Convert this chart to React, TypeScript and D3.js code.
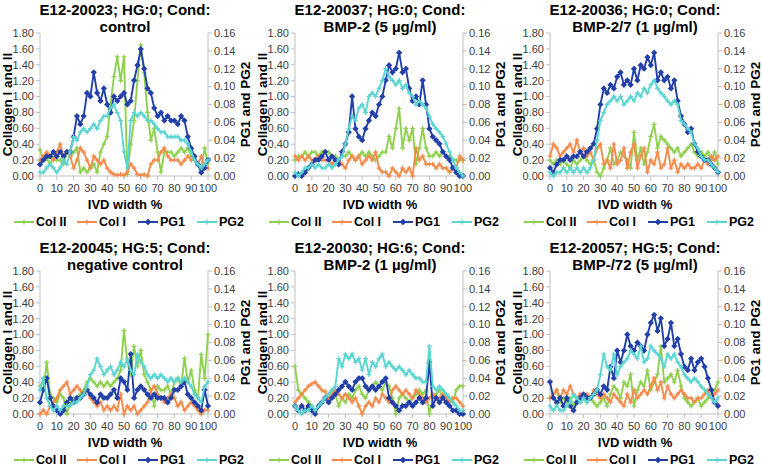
import React from "react";
import * as d3 from "d3";

// ---------- DATA (x = 0,2,4,...,100 IVD width %) ----------
const seriesNames = ["Col II", "Col I", "PG1", "PG2"];
const seriesColors = ["#8FD14F", "#F58A4B", "#2340A8", "#5AD5D2"];
const xTicks = [0, 10, 20, 30, 40, 50, 60, 70, 80, 90, 100];
const leftTicks = [0, 0.2, 0.4, 0.6, 0.8, 1.0, 1.2, 1.4, 1.6, 1.8];
const rightTicks = [0, 0.02, 0.04, 0.06, 0.08, 0.1, 0.12, 0.14, 0.16];

const titles = [
  ["E12-20023; HG:0; Cond:", "control"],
  ["E12-20037; HG:0; Cond:", "BMP-2 (5 µg/ml)"],
  ["E12-20036; HG:0; Cond:", "BMP-2/7 (1 µg/ml)"],
  ["E12-20045; HG:5; Cond:", "negative control"],
  ["E12-20030; HG:6; Cond:", "BMP-2 (1 µg/ml)"],
  ["E12-20057; HG:5; Cond:", "BMP-/72 (5 µg/ml)"],
];

// Panel 1
const colII_1 = [0.33,0.2,0.22,0.15,0.25,0.2,0.2,0.15,0.3,0.25,0.3,0.35,0.05,0.1,0.05,0.1,0.15,0.05,0.3,0.4,0.5,0.9,1.25,1.5,1.2,1.5,0.02,0.4,0.7,1.2,1.65,1.3,0.8,0.45,0.6,0.3,0.05,0.3,0.3,0.3,0.25,0.3,0.35,0.3,0.35,0.25,0.2,0.15,0.1,0.35,0.15];
const colI_1 = [0.2,0.25,0.3,0.25,0.2,0.3,0.4,0.25,0.3,0.25,0.1,0.2,0.35,0.3,0.2,0.1,0.25,0.2,0.15,0.2,0.1,0.05,0.02,0.01,0.02,0.01,0.05,0.15,0.1,0.02,0.01,0.02,0.0,0.15,0.2,0.2,0.3,0.35,0.25,0.2,0.2,0.2,0.15,0.2,0.25,0.2,0.2,0.15,0.25,0.1,0.1];
const pg1_1 = [0.013,0.018,0.022,0.022,0.027,0.022,0.027,0.022,0.027,0.027,0.044,0.067,0.058,0.067,0.093,0.089,0.116,0.093,0.084,0.098,0.080,0.071,0.089,0.084,0.089,0.093,0.080,0.084,0.107,0.124,0.142,0.120,0.098,0.093,0.076,0.067,0.071,0.062,0.067,0.062,0.062,0.058,0.067,0.062,0.044,0.031,0.022,0.013,0.004,0.009,0.018];
const pg2_1 = [0.004,0.004,0.009,0.013,0.009,0.004,0.009,0.018,0.013,0.027,0.044,0.040,0.049,0.053,0.049,0.053,0.058,0.053,0.062,0.067,0.067,0.076,0.080,0.071,0.062,0.027,0.009,0.062,0.071,0.067,0.071,0.067,0.062,0.062,0.058,0.053,0.049,0.049,0.044,0.044,0.044,0.044,0.040,0.040,0.036,0.027,0.018,0.013,0.009,0.013,0.018];

// Panel 2
const colII_2 = [0.2,0.25,0.25,0.3,0.25,0.3,0.3,0.25,0.3,0.3,0.3,0.25,0.25,0.2,0.25,0.25,0.3,0.25,0.2,0.25,0.3,0.25,0.3,0.25,0.2,0.25,0.3,0.3,0.5,0.35,0.6,0.85,0.35,0.6,0.45,0.6,0.15,0.35,0.6,0.35,0.25,0.25,0.3,0.25,0.3,0.25,0.25,0.2,0.2,0.2,0.2];
const colI_2 = [0.25,0.2,0.25,0.2,0.25,0.2,0.2,0.25,0.2,0.2,0.2,0.15,0.2,0.2,0.15,0.1,0.2,0.25,0.2,0.25,0.15,0.2,0.25,0.2,0.3,0.1,0.05,0.05,0.0,0.1,0.05,0.0,0.1,0.05,0.1,0.0,0.35,0.2,0.25,0.15,0.15,0.15,0.1,0.15,0.1,0.1,0.05,0.1,0.1,0.25,0.2];
const pg1_2 = [0.000,0.002,0.000,0.004,0.009,0.013,0.018,0.018,0.022,0.027,0.018,0.022,0.018,0.013,0.027,0.036,0.049,0.089,0.053,0.044,0.040,0.053,0.062,0.071,0.067,0.080,0.089,0.107,0.124,0.116,0.120,0.138,0.116,0.120,0.098,0.084,0.089,0.080,0.107,0.080,0.053,0.044,0.040,0.036,0.027,0.022,0.018,0.009,0.004,0.000,0.000];
const pg2_2 = [0.004,0.000,0.004,0.009,0.009,0.013,0.009,0.013,0.009,0.009,0.013,0.009,0.013,0.018,0.022,0.036,0.053,0.067,0.062,0.076,0.080,0.071,0.089,0.093,0.089,0.098,0.107,0.120,0.111,0.107,0.102,0.107,0.098,0.102,0.093,0.089,0.080,0.084,0.080,0.076,0.067,0.058,0.053,0.049,0.044,0.036,0.027,0.018,0.009,0.004,0.000];

// Panel 3
const colII_3 = [0.2,0.15,0.2,0.15,0.2,0.15,0.1,0.2,0.15,0.2,0.25,0.2,0.15,0.2,0.05,0.0,0.1,0.2,0.35,0.15,0.2,0.3,0.25,0.2,0.1,0.55,0.2,0.35,0.15,0.3,0.5,0.65,0.35,0.5,0.45,0.4,0.35,0.3,0.35,0.25,0.3,0.35,0.4,0.3,0.25,0.3,0.25,0.3,0.2,0.3,0.15];
const colI_3 = [0.25,0.4,0.35,0.25,0.3,0.35,0.4,0.3,0.45,0.3,0.35,0.25,0.3,0.2,0.35,0.4,0.15,0.2,0.1,0.4,0.15,0.2,0.35,0.1,0.3,0.4,0.1,0.25,0.35,0.05,0.2,0.15,0.3,0.1,0.15,0.35,0.1,0.2,0.05,0.15,0.1,0.15,0.1,0.1,0.15,0.1,0.2,0.15,0.25,0.2,0.25];
const pg1_3 = [0.009,0.004,0.013,0.018,0.018,0.022,0.018,0.022,0.022,0.027,0.022,0.027,0.031,0.036,0.053,0.080,0.098,0.093,0.102,0.098,0.111,0.116,0.102,0.107,0.102,0.120,0.107,0.124,0.120,0.133,0.124,0.138,0.107,0.116,0.107,0.111,0.098,0.107,0.084,0.067,0.058,0.049,0.053,0.036,0.027,0.022,0.018,0.018,0.013,0.009,0.004];
const pg2_3 = [0.004,0.000,0.004,0.004,0.009,0.004,0.009,0.004,0.009,0.004,0.009,0.004,0.009,0.018,0.040,0.062,0.071,0.080,0.084,0.089,0.084,0.089,0.080,0.084,0.089,0.084,0.093,0.089,0.098,0.093,0.102,0.107,0.098,0.093,0.089,0.084,0.080,0.084,0.080,0.062,0.058,0.053,0.049,0.036,0.031,0.022,0.018,0.018,0.013,0.009,0.004];

// Panel 4
const colII_4 = [0.35,0.3,0.65,0.25,0.2,0.15,0.25,0.2,0.0,0.15,0.2,0.2,0.25,0.3,0.4,0.45,0.4,0.35,0.4,0.35,0.4,0.35,0.4,0.45,0.55,1.05,0.65,0.5,0.85,0.6,0.8,0.5,0.4,0.3,0.1,0.35,0.3,0.3,0.35,0.25,0.4,0.45,0.35,0.7,0.4,0.55,0.3,0.2,0.75,0.45,1.0];
const colI_4 = [0.0,0.05,0.0,0.1,0.15,0.2,0.3,0.35,0.4,0.25,0.3,0.35,0.3,0.25,0.3,0.2,0.15,0.1,0.15,0.05,0.1,0.05,0.1,0.05,0.25,0.0,0.1,0.05,0.1,0.0,0.05,0.1,0.15,0.3,0.35,0.25,0.2,0.15,0.2,0.25,0.2,0.1,0.15,0.05,0.1,0.15,0.1,0.05,0.0,0.05,0.05];
const pg1_4 = [0.013,0.027,0.040,0.018,0.009,0.004,0.000,0.004,0.013,0.018,0.013,0.018,0.018,0.022,0.027,0.022,0.018,0.013,0.022,0.018,0.018,0.022,0.027,0.018,0.040,0.036,0.027,0.067,0.018,0.027,0.031,0.027,0.022,0.018,0.022,0.018,0.018,0.018,0.013,0.018,0.027,0.027,0.031,0.036,0.022,0.018,0.013,0.009,0.004,0.027,0.009];
const pg2_4 = [0.027,0.040,0.018,0.009,0.004,0.009,0.004,0.009,0.009,0.009,0.013,0.013,0.018,0.022,0.031,0.044,0.049,0.062,0.053,0.044,0.049,0.053,0.044,0.049,0.058,0.053,0.062,0.049,0.044,0.067,0.058,0.053,0.044,0.040,0.044,0.040,0.044,0.040,0.036,0.040,0.036,0.040,0.036,0.040,0.036,0.031,0.022,0.018,0.013,0.031,0.036];

// Panel 5
const colII_5 = [0.6,0.3,0.25,0.2,0.15,0.1,0.05,0.1,0.15,0.2,0.25,0.3,0.25,0.1,0.2,0.15,0.25,0.2,0.3,0.35,0.25,0.2,0.3,0.35,0.4,0.35,0.3,0.4,0.35,0.2,0.0,0.2,0.25,0.2,0.15,0.2,0.25,0.3,0.25,0.3,0.0,0.2,0.25,0.3,0.2,0.25,0.2,0.15,0.3,0.35,0.35];
const colI_5 = [0.15,0.2,0.25,0.3,0.35,0.38,0.4,0.35,0.3,0.28,0.2,0.25,0.3,0.25,0.2,0.25,0.2,0.15,0.2,0.1,0.0,0.1,0.15,0.1,0.2,0.15,0.25,0.2,0.15,0.3,0.35,0.3,0.25,0.3,0.25,0.2,0.3,0.25,0.2,0.15,0.2,0.25,0.2,0.2,0.25,0.2,0.15,0.2,0.2,0.15,0.1];
const pg1_5 = [0.009,0.004,0.009,0.004,0.009,0.004,0.000,0.009,0.013,0.018,0.013,0.018,0.022,0.027,0.031,0.036,0.031,0.027,0.036,0.040,0.040,0.031,0.027,0.031,0.027,0.031,0.036,0.040,0.018,0.013,0.009,0.004,0.009,0.009,0.013,0.009,0.013,0.018,0.013,0.018,0.058,0.009,0.018,0.013,0.018,0.013,0.009,0.004,0.004,0.000,0.000];
const pg2_5 = [0.009,0.004,0.000,0.004,0.004,0.009,0.004,0.009,0.013,0.018,0.022,0.027,0.031,0.062,0.053,0.067,0.062,0.067,0.058,0.062,0.049,0.062,0.044,0.058,0.053,0.062,0.067,0.053,0.058,0.053,0.049,0.053,0.049,0.044,0.049,0.044,0.040,0.040,0.036,0.036,0.076,0.031,0.027,0.031,0.027,0.022,0.018,0.013,0.009,0.004,0.004];

// Panel 6
const colII_6 = [0.2,0.25,0.3,0.15,0.2,0.15,0.2,0.1,0.2,0.15,0.2,0.15,0.2,0.15,0.1,0.15,0.2,0.1,0.25,0.35,0.3,0.2,0.4,0.35,0.5,0.1,0.3,0.4,0.35,0.55,0.3,0.4,0.5,0.85,0.4,0.45,0.5,0.4,0.55,0.35,0.2,0.15,0.1,0.15,0.2,0.1,0.15,0.2,0.25,0.3,0.4];
const colI_6 = [0.2,0.25,0.3,0.2,0.3,0.25,0.35,0.25,0.2,0.25,0.2,0.25,0.2,0.3,0.25,0.2,0.25,0.2,0.15,0.25,0.2,0.15,0.1,0.25,0.15,0.3,0.2,0.25,0.3,0.25,0.35,0.45,0.3,0.4,0.2,0.35,0.25,0.2,0.25,0.3,0.25,0.2,0.2,0.15,0.2,0.2,0.25,0.3,0.2,0.25,0.3];
const pg1_6 = [0.036,0.018,0.013,0.018,0.009,0.018,0.009,0.004,0.013,0.018,0.022,0.018,0.018,0.022,0.027,0.022,0.031,0.027,0.053,0.040,0.071,0.058,0.071,0.089,0.076,0.071,0.080,0.076,0.071,0.089,0.102,0.111,0.093,0.107,0.076,0.084,0.102,0.076,0.084,0.067,0.053,0.049,0.062,0.049,0.058,0.062,0.053,0.040,0.027,0.013,0.009];
const pg2_6 = [0.009,0.004,0.009,0.004,0.004,0.009,0.013,0.022,0.018,0.013,0.018,0.013,0.018,0.022,0.027,0.044,0.067,0.053,0.049,0.067,0.044,0.053,0.058,0.062,0.071,0.067,0.062,0.076,0.058,0.062,0.076,0.071,0.067,0.062,0.053,0.067,0.062,0.067,0.058,0.053,0.044,0.040,0.036,0.040,0.036,0.031,0.027,0.022,0.018,0.013,0.018];

const panelData = [
  [colII_1, colI_1, pg1_1, pg2_1],
  [colII_2, colI_2, pg1_2, pg2_2],
  [colII_3, colI_3, pg1_3, pg2_3],
  [colII_4, colI_4, pg1_4, pg2_4],
  [colII_5, colI_5, pg1_5, pg2_5],
  [colII_6, colI_6, pg1_6, pg2_6],
];

const FONT = "Liberation Sans, Arial, sans-serif";
const AXIS_COLOR = "#BFBFBF";
const TICK_TEXT = "#404040";

function markerPath(kind: number, x: number, y: number, s: number) {
  if (kind === 2) {
    return `M${x},${y - s}L${x + s},${y}L${x},${y + s}L${x - s},${y}Z`;
  }
  return `M${x - s},${y}L${x + s},${y}M${x},${y - s}L${x},${y + s}`;
}

function Panel({ idx }: { idx: number }) {
  const col = idx % 3;
  const row = Math.floor(idx / 3);
  const ox = col * 255;
  const oy = row * 238;
  const left = ox + 40;
  const right = ox + 208;
  const top = oy + 33;
  const bottom = oy + 176;

  const x = d3.scaleLinear().domain([0, 100]).range([left, right]);
  const yL = d3.scaleLinear().domain([0, 1.8]).range([bottom, top]);
  const yR = d3.scaleLinear().domain([0, 0.16]).range([bottom, top]);
  const fmt = d3.format(".2f");
  const series = panelData[idx];
  const cx = (left + right) / 2 + 1;

  return (
    <g>
      <text x={cx} y={oy + 15} textAnchor="middle" fontFamily={FONT} fontWeight="bold" fontSize={15} fill="#000">
        {titles[idx][0]}
      </text>
      <text x={cx} y={oy + 32} textAnchor="middle" fontFamily={FONT} fontWeight="bold" fontSize={15} fill="#000">
        {titles[idx][1]}
      </text>

      {/* axes */}
      <line x1={left} x2={left} y1={top} y2={bottom} stroke={AXIS_COLOR} />
      <line x1={right} x2={right} y1={top} y2={bottom} stroke={AXIS_COLOR} />
      <line x1={left} x2={right} y1={bottom} y2={bottom} stroke={AXIS_COLOR} />
      {leftTicks.map((t) => (
        <g key={"l" + t}>
          <line x1={left - 4} x2={left} y1={yL(t)} y2={yL(t)} stroke={AXIS_COLOR} />
          <text x={left - 6} y={yL(t)} dy="0.35em" textAnchor="end" fontFamily={FONT} fontSize={11} fill={TICK_TEXT}>
            {fmt(t)}
          </text>
        </g>
      ))}
      {rightTicks.map((t) => (
        <g key={"r" + t}>
          <line x1={right} x2={right + 4} y1={yR(t)} y2={yR(t)} stroke={AXIS_COLOR} />
          <text x={right + 6} y={yR(t)} dy="0.35em" textAnchor="start" fontFamily={FONT} fontSize={11} fill={TICK_TEXT}>
            {fmt(t)}
          </text>
        </g>
      ))}
      {xTicks.map((t) => (
        <g key={"x" + t}>
          <line x1={x(t)} x2={x(t)} y1={bottom} y2={bottom + 4} stroke={AXIS_COLOR} />
          <text x={x(t)} y={bottom + 12} dy="0.35em" textAnchor="middle" fontFamily={FONT} fontSize={11} fill={TICK_TEXT}>
            {t}
          </text>
        </g>
      ))}
      <text x={cx} y={oy + 204} dy="0.35em" textAnchor="middle" fontFamily={FONT} fontWeight="bold" fontSize={13} fill="#000">
        IVD width %
      </text>
      <text transform={`translate(${ox + 7},${(top + bottom) / 2}) rotate(-90)`} dy="0.35em" textAnchor="middle" fontFamily={FONT} fontWeight="bold" fontSize={13.5} fill="#000">
        Collagen I and II
      </text>
      <text transform={`translate(${ox + 245},${(top + bottom) / 2}) rotate(-90)`} dy="0.35em" textAnchor="middle" fontFamily={FONT} fontWeight="bold" fontSize={13.5} fill="#000">
        PG1 and PG2
      </text>

      {/* series */}
      {series.map((vals, si) => {
        const ys = si < 2 ? yL : yR;
        const n = vals.length;
        const pts: [number, number][] = vals.map((v, i) => [x((i * 100) / (n - 1)), ys(v)]);
        const line = d3.line()(pts) || "";
        const mk = pts.map((p) => markerPath(si, p[0], p[1], si === 2 ? 2.2 : 2.4)).join("");
        return (
          <g key={si}>
            <path d={line} fill="none" stroke={seriesColors[si]} strokeWidth={1.9} strokeLinejoin="round" />
            <path d={mk} fill={seriesColors[si]} stroke={seriesColors[si]} strokeWidth={1.3} />
          </g>
        );
      })}

      {/* legend */}
      {seriesNames.map((name, si) => {
        const lx = ox + [14, 77, 138, 197][si];
        const ly = oy + 222;
        return (
          <g key={name}>
            <line x1={lx} x2={lx + 20} y1={ly} y2={ly} stroke={seriesColors[si]} strokeWidth={2} />
            <path d={markerPath(si, lx + 10, ly, 2.5)} fill={seriesColors[si]} stroke={seriesColors[si]} strokeWidth={1.2} />
            <text x={lx + 22} y={ly} dy="0.35em" fontFamily={FONT} fontWeight="bold" fontSize={12.5} fill="#000">
              {name}
            </text>
          </g>
        );
      })}
    </g>
  );
}

export default function App() {
  return (
    <svg width={762} height={469} style={{ position: "absolute", left: 0, top: 0, background: "#fff" }}>
      <rect width={762} height={469} fill="#fff" />
      {[0, 1, 2, 3, 4, 5].map((i) => (
        <Panel key={i} idx={i} />
      ))}
    </svg>
  );
}
